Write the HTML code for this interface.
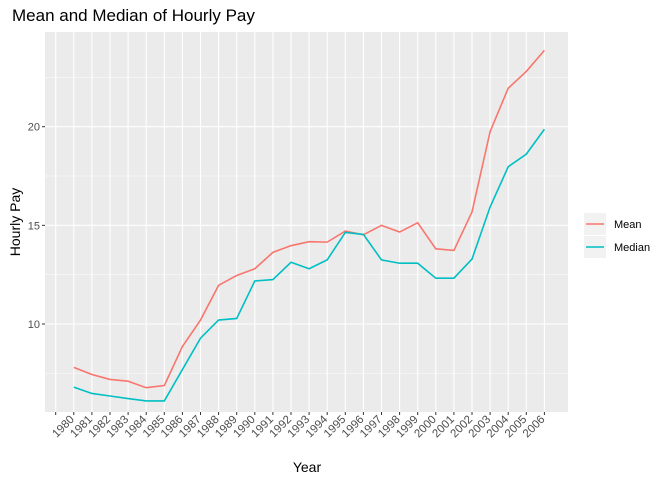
<!DOCTYPE html>
<html><head><meta charset="utf-8"><style>
body{margin:0;background:#fff;font-family:"Liberation Sans",sans-serif}
</style></head><body>
<svg id="c" width="672" height="480" xmlns="http://www.w3.org/2000/svg" font-family="Liberation Sans, sans-serif"></svg>
<script>
const years=[1980,1981,1982,1983,1984,1985,1986,1987,1988,1989,1990,1991,1992,1993,1994,1995,1996,1997,1998,1999,2000,2001,2002,2003,2004,2005,2006];
const meanVals=[7.80,7.44,7.19,7.10,6.77,6.88,8.86,10.2,11.96,12.46,12.80,13.63,13.97,14.17,14.15,14.71,14.52,15.0,14.66,15.13,13.81,13.73,15.68,19.75,21.95,22.8,23.87];
const medianVals=[6.80,6.48,6.35,6.22,6.10,6.10,7.69,9.28,10.2,10.28,12.18,12.25,13.13,12.80,13.25,14.64,14.54,13.25,13.08,13.08,12.32,12.32,13.29,15.93,17.97,18.61,19.87];
const yTicks=[10,15,20];
const yMinor=[7.5,12.5,17.5,22.5];
const NS='http://www.w3.org/2000/svg';
const svg=document.getElementById('c');
const L=45,R=568,T=32,B=412;
const x=i=>55.7+i*18.1;
const y=v=>324-(v-10)*19.73;
function mk(t,a,p){const e=document.createElementNS(NS,t);for(const k in a)e.setAttribute(k,a[k]);(p||svg).appendChild(e);return e;}
const bg=mk('rect',{x:L,y:T,width:R-L,height:B-T,fill:'#ebebeb'});


yMinor.forEach(v=>mk('line',{x1:L,x2:R,y1:y(v),y2:y(v),stroke:'#fff','stroke-width':0.5}));
for(let i=0;i<=27;i++)mk('line',{x1:x(i),x2:x(i),y1:T,y2:B,stroke:'#fff','stroke-width':1.1});
yTicks.forEach(v=>{
 mk('line',{x1:L,x2:R,y1:y(v),y2:y(v),stroke:'#fff','stroke-width':1.1});
 mk('line',{x1:L-3,x2:L,y1:y(v),y2:y(v),stroke:'#333'});
 const t=mk('text',{x:L-5,y:y(v)+4,'text-anchor':'end','font-size':11,fill:'#4d4d4d'});t.textContent=v;
 
 
});
for(let i=0;i<=27;i++)mk('line',{x1:x(i),x2:x(i),y1:B,y2:B+3,stroke:'#333'});
years.forEach((yr,i)=>{
 const px=x(i+1)+1,py=B+8;
 const t=mk('text',{x:px,y:py,'text-anchor':'end','font-size':11.5,fill:'#4d4d4d',transform:`rotate(-45 ${px} ${py})`});t.textContent=yr;
 
 
});
function line(vals,col,name){
 const p=mk('polyline',{points:vals.map((v,i)=>x(i+1)+','+y(v)).join(' '),fill:'none',stroke:col,'stroke-width':1.6});
 
 
}
line(meanVals,'#f8766d','mean-line');
line(medianVals,'#00bfc4','median-line');
let t=mk('text',{x:12,y:21,'font-size':17,fill:'#000'});t.textContent='Mean and Median of Hourly Pay';


t=mk('text',{x:307,y:472,'text-anchor':'middle','font-size':14,fill:'#000'});t.textContent='Year';


t=mk('text',{x:20,y:222,'text-anchor':'middle','font-size':14,fill:'#000',transform:'rotate(-90 20 222)'});t.textContent='Hourly Pay';


[['Mean','#f8766d',224],['Median','#00bfc4',247]].forEach(([n,c,yy])=>{
 const g=mk('g',{});
 
 
 mk('rect',{x:584,y:yy-11,width:22,height:22,fill:'#f2f2f2'},g);
 mk('line',{x1:586,x2:604,y1:yy,y2:yy,stroke:c,'stroke-width':1.6},g);
 const tt=mk('text',{x:614,y:yy+4,'font-size':11,fill:'#000'},g);tt.textContent=n;
});
</script>
</body></html>
